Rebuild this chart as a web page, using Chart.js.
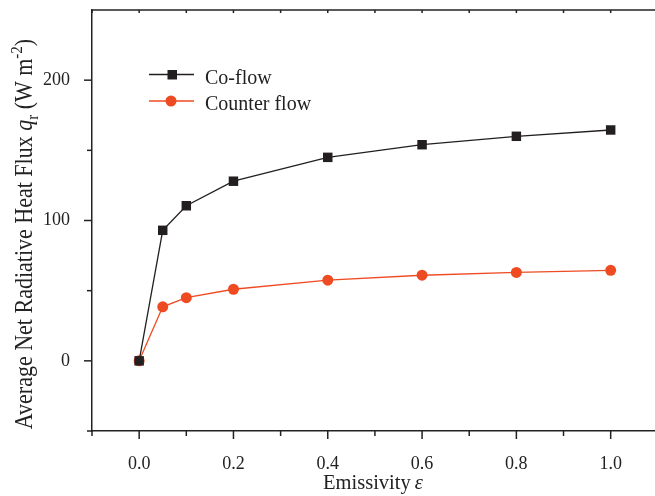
<!DOCTYPE html>
<html>
<head>
<meta charset="utf-8">
<script src="https://cdn.jsdelivr.net/npm/chart.js@4.4.1/dist/chart.umd.min.js"></script>
<style>
  html, body { margin: 0; padding: 0; background: #fff; overflow: hidden; }
  canvas { display: block; }
</style>
</head>
<body>
<canvas id="graph" width="655" height="496"></canvas>
<script>
// data
const emissivity = [0, 0.05, 0.1, 0.2, 0.4, 0.6, 0.8, 1.0];
const coFlow = [0, 93, 110.5, 128, 145, 154, 160, 164.5];
const counterFlow = [0, 38.5, 45, 51, 57.5, 61, 63, 64.5];

const xTicks = [0, 0.2, 0.4, 0.6, 0.8, 1.0];
const xTickLabels = ["0.0", "0.2", "0.4", "0.6", "0.8", "1.0"];
const xMinorTicks = [-0.1, 0.1, 0.3, 0.5, 0.7, 0.9];
const yTicks = [0, 100, 200];
const yTickLabels = ["0", "100", "200"];
const yMinorTicks = [-50, 50, 150];

const BLACK = "#231f20";
const ORANGE = "#ef4b23";
const AXIS = "#222";
const SERIF = "'Liberation Serif', 'Times New Roman', serif";

// draw a row of text pieces (for italic / sub / superscript)
function drawRich(ctx, parts, x, y) {
  let total = 0;
  parts.forEach(p => { ctx.font = p.font; total += ctx.measureText(p.text).width; });
  let cx = x - total / 2;
  parts.forEach(p => {
    ctx.font = p.font;
    ctx.fillText(p.text, cx, y + (p.dy || 0));
    cx += ctx.measureText(p.text).width;
  });
}

const extras = {
  id: "extras",
  afterDraw(chart) {
    const ctx = chart.ctx;
    const xs = chart.scales.x, ys = chart.scales.y;
    const area = chart.chartArea;
    ctx.save();
    ctx.strokeStyle = AXIS;
    ctx.lineWidth = 1.5;

    // top frame line
    ctx.beginPath();
    ctx.moveTo(area.left, area.top);
    ctx.lineTo(area.right, area.top);
    ctx.stroke();

    // bottom ticks (outward) and top ticks (inward)
    const tick = (x1, y1, x2, y2) => { ctx.beginPath(); ctx.moveTo(x1, y1); ctx.lineTo(x2, y2); ctx.stroke(); };
    xTicks.forEach(v => {
      const px = xs.getPixelForValue(v);
      tick(px, area.bottom, px, area.bottom + 8);
      tick(px, area.top, px, area.top + 3);
    });
    xMinorTicks.forEach(v => {
      const px = xs.getPixelForValue(v);
      tick(px, area.bottom, px, area.bottom + 5);
      tick(px, area.top, px, area.top + 3);
    });
    yTicks.forEach(v => {
      const py = ys.getPixelForValue(v);
      tick(area.left, py, area.left - 8, py);
    });
    yMinorTicks.forEach(v => {
      const py = ys.getPixelForValue(v);
      tick(area.left, py, area.left - 5, py);
    });

    // legend
    ctx.lineWidth = 1.3;
    ctx.strokeStyle = BLACK;
    tick(149, 74.5, 194, 74.5);
    ctx.fillStyle = BLACK;
    ctx.fillRect(167.5, 70, 9.5, 9.5);
    ctx.strokeStyle = ORANGE;
    tick(149, 101, 194, 101);
    ctx.fillStyle = ORANGE;
    ctx.beginPath();
    ctx.arc(171, 101, 5.5, 0, Math.PI * 2);
    ctx.fill();

    ctx.fillStyle = "#222";
    ctx.textBaseline = "alphabetic";
    ctx.textAlign = "left";
    ctx.font = "20px " + SERIF;
    ctx.fillText("Co-flow", 205, 83.5);
    ctx.fillText("Counter flow", 205, 109.5);

    // x title
    drawRich(ctx, [
      { text: "Emissivity\u2009", font: "20.5px " + SERIF },
      { text: "\u03b5", font: "italic 20.5px " + SERIF }
    ], 373, 489);

    // y title (rotated, glyphs a bit taller like the original)
    ctx.translate(32, 234);
    ctx.rotate(-Math.PI / 2);
    ctx.scale(1, 1.1);
    drawRich(ctx, [
      { text: "Average Net Radiative Heat Flux ", font: "22px " + SERIF },
      { text: "q", font: "italic 22px " + SERIF },
      { text: "r", font: "15px " + SERIF, dy: 5 },
      { text: " (W m", font: "22px " + SERIF },
      { text: "-2", font: "15px " + SERIF, dy: -9 },
      { text: ")", font: "22px " + SERIF }
    ], 0, 0);
    ctx.restore();
  }
};

new Chart(document.getElementById("graph"), {
  type: "line",
  data: {
    datasets: [
      {
        label: "Co-flow",
        data: emissivity.map((x, i) => ({ x: x, y: coFlow[i] })),
        borderColor: BLACK,
        backgroundColor: BLACK,
        borderWidth: 1.3,
        pointStyle: "rect",
        pointRadius: 6.7,
        pointBorderWidth: 0,
        tension: 0
      },
      {
        label: "Counter flow",
        data: emissivity.map((x, i) => ({ x: x, y: counterFlow[i] })),
        borderColor: ORANGE,
        backgroundColor: ORANGE,
        borderWidth: 1.3,
        pointStyle: "circle",
        pointRadius: 5.5,
        pointBorderWidth: 0,
        tension: 0
      }
    ]
  },
  options: {
    responsive: false,
    animation: false,
    layout: { autoPadding: false, padding: { top: 10, right: 0, left: 0, bottom: 0 } },
    plugins: { legend: { display: false }, tooltip: { enabled: false } },
    scales: {
      x: {
        type: "linear",
        min: -0.1,
        max: 1.094,
        grid: { display: false },
        border: { display: true, color: AXIS, width: 1.5 },
        afterBuildTicks: s => { s.ticks = xTicks.map(v => ({ value: v })); },
        afterFit: s => { s.height = 65; s.paddingLeft = 0; s.paddingRight = 0; },
        ticks: {
          padding: 14,
          color: "#222",
          font: { family: SERIF, size: 18 },
          callback: (v, i) => xTickLabels[i]
        }
      },
      y: {
        min: -50,
        max: 250,
        grid: { display: false },
        border: { display: true, color: AXIS, width: 1.5 },
        afterBuildTicks: s => { s.ticks = yTicks.map(v => ({ value: v })); },
        afterFit: s => { s.width = 92; s.paddingTop = 0; s.paddingBottom = 0; },
        ticks: {
          padding: 14,
          color: "#222",
          font: { family: SERIF, size: 18 },
          callback: (v, i) => yTickLabels[i]
        }
      }
    }
  },
  plugins: [extras]
});
</script>
</body>
</html>
